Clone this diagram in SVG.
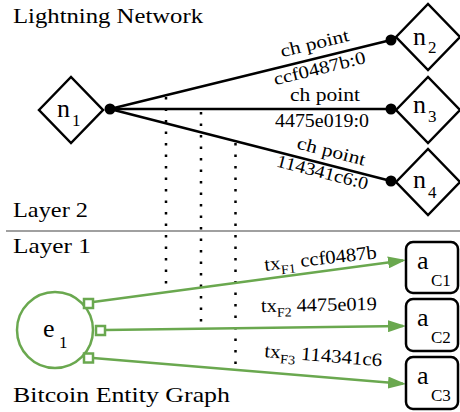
<svg xmlns="http://www.w3.org/2000/svg" width="460" height="412" viewBox="0 0 460 412">
<style>
  text { font-family: "Liberation Serif", "Times New Roman", serif; fill: #000; }
  .title { font-size: 21px; }
  .ch { font-size: 18px; }
  .big { font-size: 26px; }
  .sub { font-size: 17px; }
  .tx { font-size: 19px; }
  .diamond { fill: #fff; stroke: #000; stroke-width: 2.5; stroke-linejoin: miter; }
  .acct { fill: #fff; stroke: #000; stroke-width: 2.5; }
  .chan { stroke: #000; stroke-width: 2.5; fill: none; }
  .dotline { stroke: #000; stroke-width: 2.5; stroke-dasharray: 2.5 9; fill: none; }
  .green { stroke: #6aa84f; stroke-width: 2.5; fill: none; }
  .port { stroke: #6aa84f; stroke-width: 2.5; fill: #fff; }
</style>
<defs>
  <marker id="arr" markerUnits="userSpaceOnUse" markerWidth="18" markerHeight="12" viewBox="0 0 18 12" refX="15" refY="6" orient="auto">
    <path d="M0,0 L18,6 L0,12 z" fill="#6aa84f"/>
  </marker>
</defs>

<rect width="460" height="412" fill="#fff"/>

<text class="title" x="13" y="23" textLength="190" lengthAdjust="spacingAndGlyphs">Lightning Network</text>
<text class="title" x="13" y="217" textLength="75" lengthAdjust="spacingAndGlyphs">Layer 2</text>
<line x1="6" y1="231" x2="460" y2="231" stroke="#808080" stroke-width="1.5"/>
<text class="title" x="13" y="253" textLength="78" lengthAdjust="spacingAndGlyphs">Layer 1</text>
<text class="title" x="13" y="402" textLength="217" lengthAdjust="spacingAndGlyphs">Bitcoin Entity Graph</text>

<g id="connectors">
  <line class="dotline" x1="166" y1="97" x2="166" y2="284"/>
  <line class="dotline" x1="201" y1="112" x2="201" y2="322"/>
  <line class="dotline" x1="235.5" y1="143" x2="235.5" y2="368"/>

  <line class="chan" x1="110" y1="109" x2="391" y2="40"/>
  <line class="chan" x1="110" y1="109" x2="391" y2="109"/>
  <line class="chan" x1="110" y1="109" x2="391" y2="181"/>
  <circle cx="110" cy="109" r="5.5"/>
  <circle cx="391" cy="40" r="5.5"/>
  <circle cx="391" cy="109" r="5.5"/>
  <circle cx="391" cy="181" r="5.5"/>

  <text class="ch" x="316" y="49" text-anchor="middle" transform="rotate(-13.8 316 49)" textLength="70" lengthAdjust="spacingAndGlyphs">ch point</text>
  <text class="ch" x="321" y="74" text-anchor="middle" transform="rotate(-13.8 321 74)" textLength="94" lengthAdjust="spacingAndGlyphs">ccf0487b:0</text>
  <text class="ch" x="325" y="101" text-anchor="middle" textLength="70" lengthAdjust="spacingAndGlyphs">ch point</text>
  <text class="ch" x="322" y="127" text-anchor="middle" textLength="94" lengthAdjust="spacingAndGlyphs">4475e019:0</text>
  <text class="ch" x="330" y="157" text-anchor="middle" transform="rotate(14.4 330 157)" textLength="70" lengthAdjust="spacingAndGlyphs">ch point</text>
  <text class="ch" x="321" y="178" text-anchor="middle" transform="rotate(14.4 321 178)" textLength="94" lengthAdjust="spacingAndGlyphs">114341c6:0</text>

  <line class="green" x1="93" y1="302" x2="403" y2="260.4" marker-end="url(#arr)"/>
  <line class="green" x1="105" y1="330" x2="403" y2="326" marker-end="url(#arr)"/>
  <line class="green" x1="93" y1="358" x2="403" y2="383.8" marker-end="url(#arr)"/>

  <text class="tx" x="265" y="271" transform="rotate(-6.5 265 271)" textLength="113" lengthAdjust="spacingAndGlyphs">tx<tspan font-size="13" dy="5">F1</tspan><tspan dy="-5"> ccf0487b</tspan></text>
  <text class="tx" x="261" y="312" transform="rotate(-1 261 312)" textLength="116" lengthAdjust="spacingAndGlyphs">tx<tspan font-size="13" dy="5">F2</tspan><tspan dy="-5"> 4475e019</tspan></text>
  <text class="tx" x="264" y="357" transform="rotate(4.5 264 357)" textLength="118" lengthAdjust="spacingAndGlyphs">tx<tspan font-size="13" dy="5">F3</tspan><tspan dy="-5"> 114341c6</tspan></text>
</g>

<g id="n1">
  <polygon class="diamond" points="39,110 71,77 103,110 71,143"/>
  <text class="big" x="57" y="117">n</text>
  <text class="sub" x="72" y="126">1</text>
</g>
<g id="n2">
  <polygon class="diamond" points="396,37 428,4 460,37 428,70"/>
  <text class="big" x="413" y="45">n</text>
  <text class="sub" x="428" y="53">2</text>
</g>
<g id="n3">
  <polygon class="diamond" points="396,110 428,77 460,110 428,143"/>
  <text class="big" x="413" y="113">n</text>
  <text class="sub" x="428" y="122">3</text>
</g>
<g id="n4">
  <polygon class="diamond" points="396,182 428,149 460,182 428,215"/>
  <text class="big" x="413" y="188">n</text>
  <text class="sub" x="428" y="198">4</text>
</g>

<g id="e1">
  <circle cx="55" cy="330" r="38" fill="#fff" stroke="#6aa84f" stroke-width="2.5"/>
  <text class="big" x="43" y="337">e</text>
  <text class="sub" x="59" y="348">1</text>
  <rect class="port" x="84" y="299" width="9" height="9"/>
  <rect class="port" x="96" y="326" width="9" height="9"/>
  <rect class="port" x="84" y="353.5" width="9" height="9"/>
</g>

<g id="aC1">
  <rect class="acct" x="406" y="242" width="52" height="51" rx="7"/>
  <text class="big" x="417" y="269" font-size="24">a</text>
  <text class="sub" x="431" y="286" font-size="19">C1</text>
</g>
<g id="aC2">
  <rect class="acct" x="406" y="299" width="52" height="52" rx="7"/>
  <text class="big" x="417" y="326" font-size="24">a</text>
  <text class="sub" x="431" y="343" font-size="19">C2</text>
</g>
<g id="aC3">
  <rect class="acct" x="406" y="357" width="52" height="52" rx="7"/>
  <text class="big" x="417" y="384" font-size="24">a</text>
  <text class="sub" x="431" y="401" font-size="19">C3</text>
</g>
</svg>
